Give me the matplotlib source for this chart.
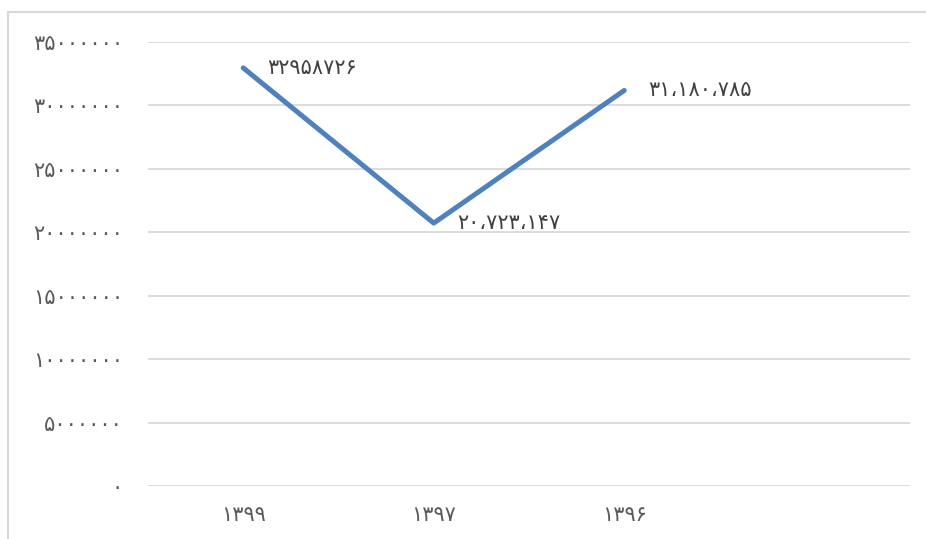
import matplotlib
matplotlib.use("Agg")
import matplotlib.pyplot as plt
from matplotlib.patches import Rectangle

# data (years in Persian digits)
years = ["۱۳۹۹", "۱۳۹۷", "۱۳۹۶"]
values = [32958726, 20723147, 31180785]
value_labels = ["۳۲۹۵۸۷۲۶", "۲۰،۷۲۳،۱۴۷", "۳۱،۱۸۰،۷۸۵"]
yticks = [0, 5000000, 10000000, 15000000, 20000000, 25000000, 30000000, 35000000]
ytick_labels = ["۰", "۵۰۰۰۰۰۰", "۱۰۰۰۰۰۰۰", "۱۵۰۰۰۰۰۰", "۲۰۰۰۰۰۰۰",
                "۲۵۰۰۰۰۰۰", "۳۰۰۰۰۰۰۰", "۳۵۰۰۰۰۰۰"]

plt.rcParams['font.family'] = ['DejaVu Sans']

fig = plt.figure(figsize=(9.26, 5.39), dpi=100)
ax = fig.add_axes([148/926, 1-486/539, 762/926, 444/539])

# outer chart border (partly cut off in the original)
fig.patches.append(Rectangle((7.5/926, -0.1), 1.2, 1.1 - 12.5/539,
                             transform=fig.transFigure, fill=False,
                             edgecolor="#d9d9d9", linewidth=1.5))

x = list(range(len(values)))
ax.plot(x, values, color="#4f81bd", linewidth=3.6, solid_capstyle="round",
        zorder=3)

for xi, v, lab in zip(x, values, value_labels):
    ax.annotate(lab, (xi, v), xytext=(17, 0), textcoords="offset points",
                va="center", ha="left", fontsize=15, color="#404040")

ax.set_xlim(-0.5, 3.5)
ax.set_ylim(0, 35000000)
ax.set_yticks(yticks)
ax.set_yticklabels(ytick_labels)
ax.set_xticks(x)
ax.set_xticklabels(years)
ax.tick_params(axis="both", length=0, labelsize=15, colors="#595959")
ax.tick_params(axis="y", pad=18)
ax.tick_params(axis="x", pad=14)

ax.grid(axis="y", color="#d9d9d9", linewidth=1.3)
ax.set_axisbelow(True)
for s in ax.spines.values():
    s.set_visible(False)

fig.savefig("out.png", dpi=100)
